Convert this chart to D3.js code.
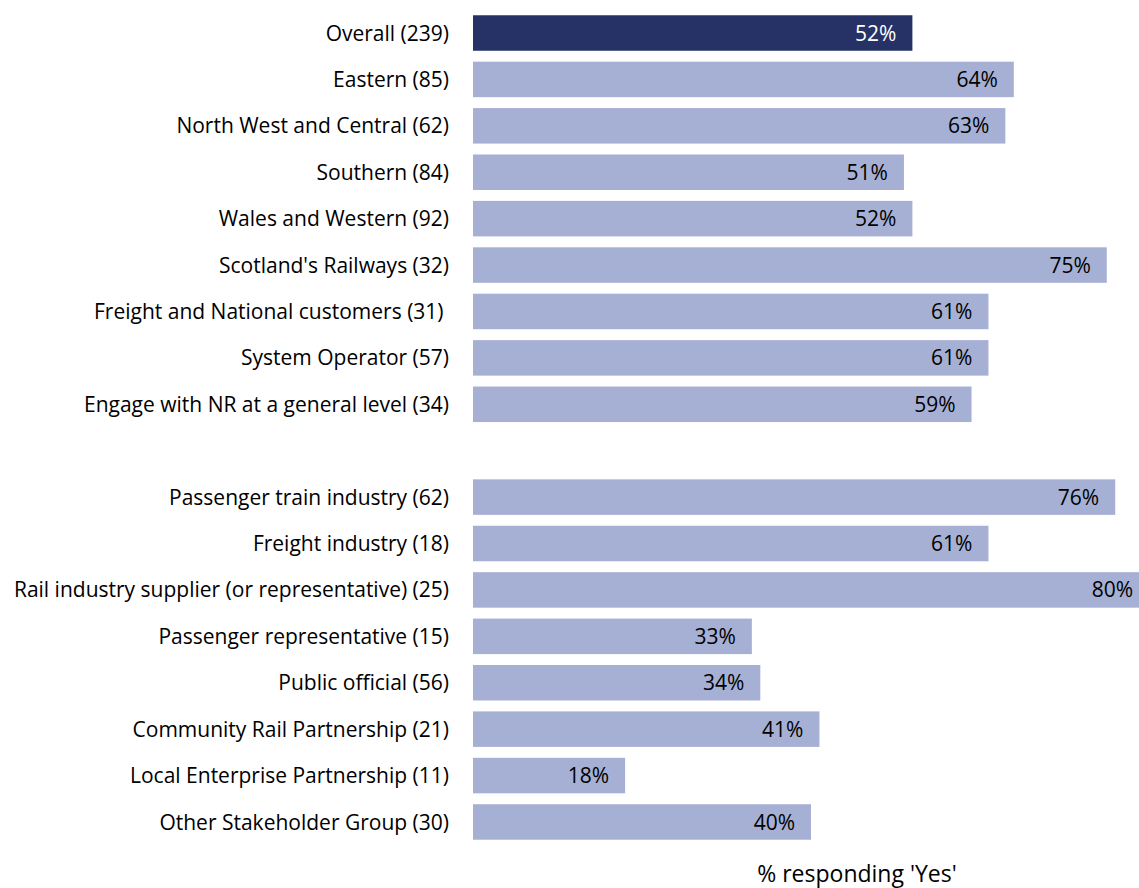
<!DOCTYPE html>
<html>
<head>
<meta charset="utf-8">
<script src="https://cdn.jsdelivr.net/npm/d3@7"></script>
<style>
  html, body { margin: 0; padding: 0; background: #fff; }
  svg text { font-family: "Open Sans", sans-serif; white-space: pre; }
</style>
</head>
<body>
<svg id="chart" width="1139" height="888"></svg>
<script>
// Survey groups (respondent counts in brackets) and share answering "Yes"
const categories = [
  "Overall (239)",
  "Eastern (85)",
  "North West and Central (62)",
  "Southern (84)",
  "Wales and Western (92)",
  "Scotland's Railways (32)",
  "Freight and National customers (31) ",
  "System Operator (57)",
  "Engage with NR at a general level (34)",
  "",
  "Passenger train industry (62)",
  "Freight industry (18)",
  "Rail industry supplier (or representative) (25)",
  "Passenger representative (15)",
  "Public official (56)",
  "Community Rail Partnership (21)",
  "Local Enterprise Partnership (11)",
  "Other Stakeholder Group (30)"
];
const yesPercent = [52, 64, 63, 51, 52, 75, 61, 61, 59, null, 76, 61, 80, 33, 34, 41, 18, 40];
const highlighted = ["Overall (239)"];
const axisTitle = "% responding 'Yes'";

const rows = categories.map((c, i) => ({ key: i + "|" + c, label: c, value: yesPercent[i] }));

const svg = d3.select("#chart");
const plotLeft = 473;
const fontSize = 21;

const x = d3.scaleLinear().domain([0, 100]).range([plotLeft, plotLeft + 845]);
const y = d3.scaleBand()
  .domain(rows.map(r => r.key))
  .range([9.8, 9.8 + 18 * 46.41])
  .paddingInner(0.235)
  .paddingOuter(0.1175);

// category labels on the left
svg.append("g")
  .selectAll("text")
  .data(rows.filter(r => r.label))
  .join("text")
  .attr("x", 449)
  .attr("y", r => y(r.key) + y.bandwidth() / 2)
  .attr("dy", "0.36em")
  .attr("text-anchor", "end")
  .attr("font-size", fontSize)
  .attr("fill", "#000")
  .text(r => r.label);

const bars = rows.filter(r => r.value != null);

svg.append("g")
  .selectAll("rect")
  .data(bars)
  .join("rect")
  .attr("x", x(0))
  .attr("y", r => y(r.key))
  .attr("width", r => x(r.value) - x(0))
  .attr("height", y.bandwidth())
  .attr("fill", r => highlighted.includes(r.label) ? "#263266" : "#a6b0d4");

// value labels inside bar ends
svg.append("g")
  .selectAll("text")
  .data(bars)
  .join("text")
  .attr("x", r => x(r.value) - 16)
  .attr("y", r => y(r.key) + y.bandwidth() / 2)
  .attr("dy", "0.36em")
  .attr("text-anchor", "end")
  .attr("font-size", fontSize)
  .attr("fill", r => highlighted.includes(r.label) ? "#ffffff" : "#000000")
  .text(r => r.value + "%");

svg.append("text")
  .attr("x", 857)
  .attr("y", 882)
  .attr("text-anchor", "middle")
  .attr("font-size", 23)
  .attr("fill", "#000")
  .text(axisTitle);
</script>
</body>
</html>
